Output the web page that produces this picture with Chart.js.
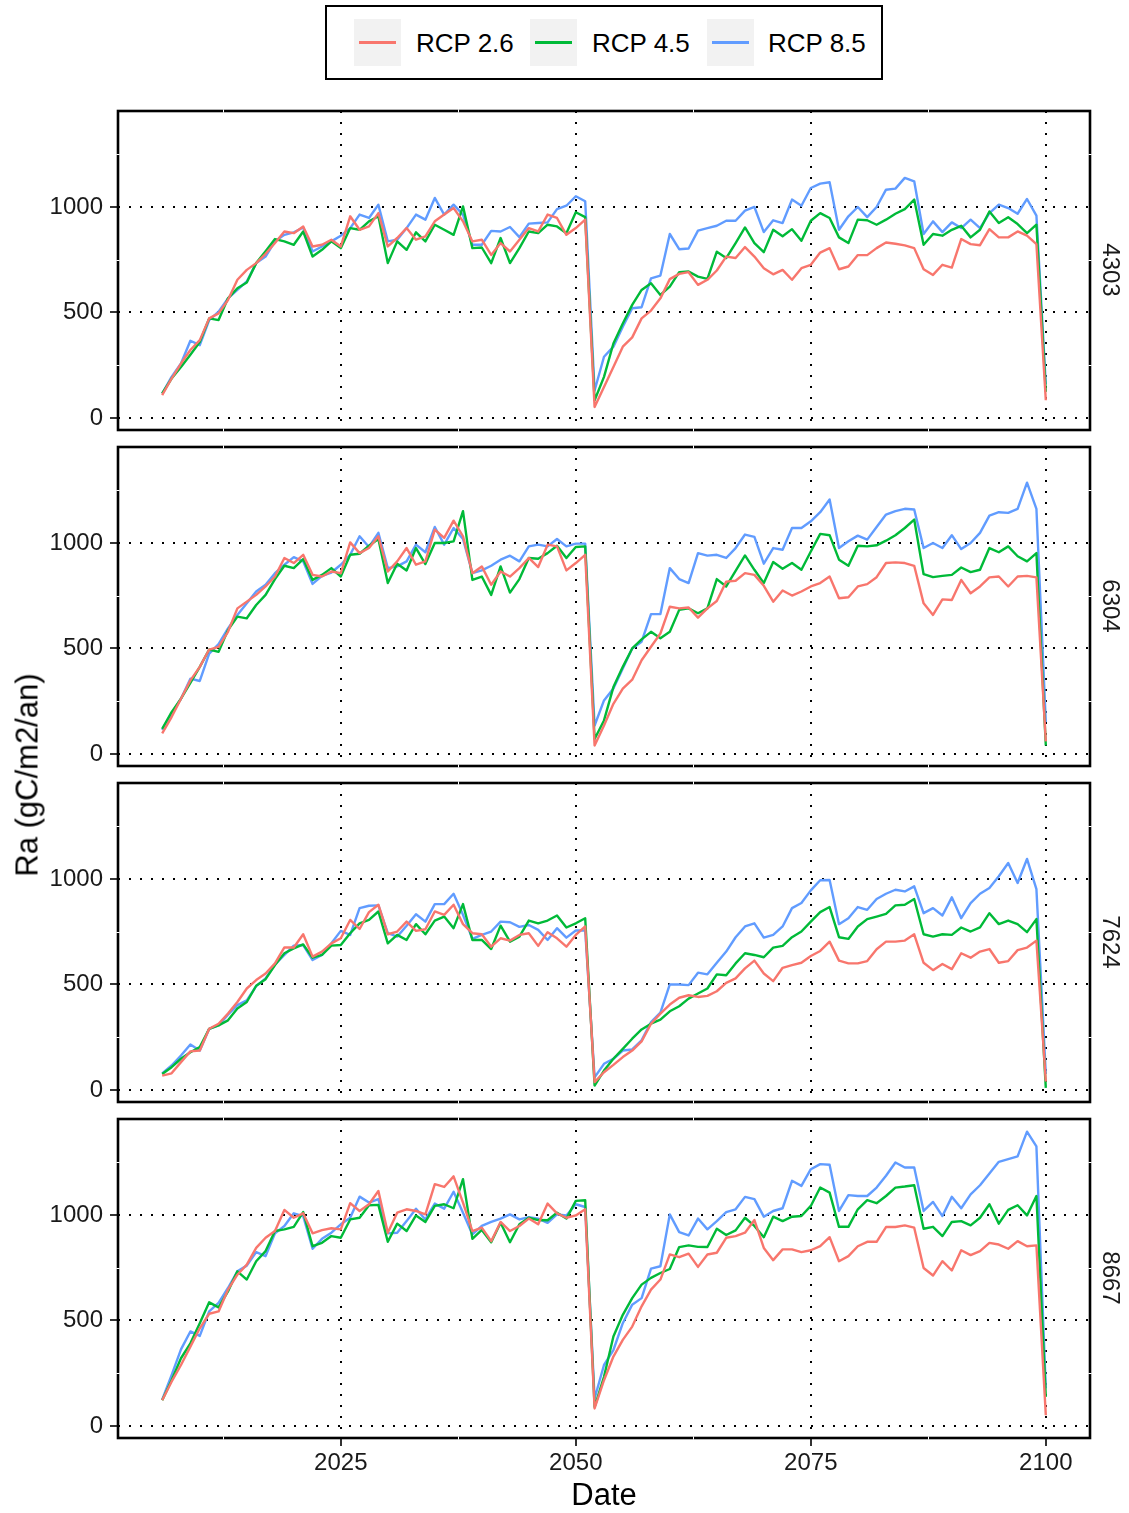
<!DOCTYPE html>
<html>
<head>
<meta charset="utf-8">
<title>Ra (gC/m2/an)</title>
<script src="https://cdn.jsdelivr.net/npm/chart.js@4.4.1/dist/chart.umd.min.js"></script>
<style>
  html, body { margin: 0; padding: 0; background: #ffffff; }
  body { width: 1129px; height: 1513px; position: relative; overflow: hidden;
         font-family: "Liberation Sans", Arial, Helvetica, sans-serif; color: #000; }
  canvas { position: absolute; left: 0; }
  .txt { position: absolute; white-space: nowrap; line-height: 1; z-index: 5; }
  .legend-box { position: absolute; left: 325px; top: 5px; width: 554px; height: 71px;
                border: 2px solid #000; background: #fff; z-index: 4; }
  .key { position: absolute; top: 19px; width: 47px; height: 47px; background: #F2F2F2; z-index: 5; }
  .key span { position: absolute; left: 5px; top: 22px; width: 37px; height: 3px; }
</style>
</head>
<body>

<div class="legend-box"></div>
<div class="key" style="left:354px"><span style="background:#F8766D"></span></div>
<div class="key" style="left:530px"><span style="background:#00BA38"></span></div>
<div class="key" style="left:707px"><span style="background:#619CFF"></span></div>
<div class="txt" style="left:416px; top:43px; font-size:26px; transform:translateY(-50%)">RCP 2.6</div>
<div class="txt" style="left:592px; top:43px; font-size:26px; transform:translateY(-50%)">RCP 4.5</div>
<div class="txt" style="left:768px; top:43px; font-size:26px; transform:translateY(-50%)">RCP 8.5</div>

<canvas id="p4303"></canvas>
<canvas id="p6304"></canvas>
<canvas id="p7624"></canvas>
<canvas id="p8667"></canvas>

<div class="txt" style="left:27px; top:775px; font-size:31px; transform:translate(-50%,-50%) rotate(-90deg)">Ra (gC/m2/an)</div>
<div class="txt" style="left:604px; top:1494px; font-size:31px; transform:translate(-50%,-50%)">Date</div>
<div class="txt" style="left:1111px; top:270px; font-size:24px; color:#1A1A1A; transform:translate(-50%,-50%) rotate(90deg)">4303</div>
<div class="txt" style="left:1111px; top:606px; font-size:24px; color:#1A1A1A; transform:translate(-50%,-50%) rotate(90deg)">6304</div>
<div class="txt" style="left:1111px; top:942px; font-size:24px; color:#1A1A1A; transform:translate(-50%,-50%) rotate(90deg)">7624</div>
<div class="txt" style="left:1111px; top:1278px; font-size:24px; color:#1A1A1A; transform:translate(-50%,-50%) rotate(90deg)">8667</div>

<script>
// ---- data: annual autotrophic respiration per site and scenario ----
const years = [2006, 2007, 2008, 2009, 2010, 2011, 2012, 2013, 2014, 2015,
  2016, 2017, 2018, 2019, 2020, 2021, 2022, 2023, 2024, 2025,
  2026, 2027, 2028, 2029, 2030, 2031, 2032, 2033, 2034, 2035,
  2036, 2037, 2038, 2039, 2040, 2041, 2042, 2043, 2044, 2045,
  2046, 2047, 2048, 2049, 2050, 2051, 2052, 2053, 2054, 2055,
  2056, 2057, 2058, 2059, 2060, 2061, 2062, 2063, 2064, 2065,
  2066, 2067, 2068, 2069, 2070, 2071, 2072, 2073, 2074, 2075,
  2076, 2077, 2078, 2079, 2080, 2081, 2082, 2083, 2084, 2085,
  2086, 2087, 2088, 2089, 2090, 2091, 2092, 2093, 2094, 2095,
  2096, 2097, 2098, 2099, 2100];

const scenarios = ["RCP 2.6", "RCP 4.5", "RCP 8.5"];
const sites = ["4303", "6304", "7624", "8667"];
const xBreaks = [2025, 2050, 2075, 2100];
const yBreaks = [0, 500, 1000];

const ra4303_rcp26 = [108, 187, 258, 322, 369, 472, 496, 559, 655, 702,
  734, 778, 829, 884, 876, 908, 813, 821, 845, 813,
  956, 892, 908, 971, 813, 853, 900, 845, 861, 932,
  964, 995, 932, 837, 845, 773, 829, 789, 845, 900,
  884, 964, 948, 868, 900, 940, 52,
  147, 242, 338, 382, 472, 509, 567, 658, 683, 691,
  631, 655, 699, 765, 758, 810, 765, 710, 681, 702,
  655, 710, 726, 784, 805, 705, 718, 772, 772, 805,
  832, 826, 818, 805, 705, 678, 726, 713, 848, 824,
  819, 895, 856, 856, 884, 864, 824, 84];
const ra4303_rcp45 = [116, 187, 242, 300, 360, 472, 464, 567, 615, 642,
  734, 790, 848, 837, 821, 884, 765, 797, 837, 805,
  900, 892, 932, 956, 734, 837, 797, 880, 837, 916,
  892, 868, 1003, 805, 808, 734, 853, 734, 805, 884,
  876, 916, 908, 876, 975, 952, 84,
  195, 353, 448, 536, 607, 639, 583, 623, 691, 694,
  670, 659, 788, 758, 829, 903, 829, 786, 892, 861,
  895, 840, 935, 971, 948, 856, 829, 940, 937, 916,
  940, 968, 990, 1035, 821, 872, 864, 892, 911, 856,
  892, 979, 924, 951, 919, 876, 916, 124];
const ra4303_rcp85 = [116, 195, 258, 366, 345, 464, 504, 567, 607, 647,
  734, 765, 837, 868, 880, 903, 789, 813, 837, 864,
  900, 964, 948, 1011, 837, 845, 900, 964, 940, 1043,
  964, 1011, 964, 821, 821, 887, 884, 905, 857, 921,
  924, 927, 990, 1006, 1051, 1027, 130,
  290, 338, 433, 520, 525, 662, 675, 872, 800, 803,
  888, 900, 911, 935, 935, 983, 1000, 881, 937, 924,
  1035, 1006, 1090, 1111, 1117, 892, 956, 1000, 952, 1000,
  1082, 1087, 1138, 1122, 872, 932, 881, 927, 900, 940,
  900, 971, 1011, 995, 968, 1038, 959, 160];

const ra6304_rcp26 = [98, 175, 262, 349, 413, 495, 508, 579, 690, 722,
  754, 794, 841, 929, 905, 944, 849, 841, 865, 857,
  1003, 952, 976, 1032, 865, 913, 976, 897, 913, 1063,
  1024, 1106, 1032, 857, 889, 802, 865, 841, 881, 929,
  886, 992, 984, 870, 905, 944, 40,
  135, 238, 310, 352, 444, 508, 571, 698, 690, 694,
  646, 690, 725, 817, 821, 857, 849, 797, 722, 775,
  751, 770, 794, 810, 841, 738, 743, 794, 805, 838,
  905, 908, 905, 892, 714, 659, 733, 730, 825, 762,
  794, 837, 841, 794, 841, 844, 837, 60];
const ra6304_rcp45 = [119, 198, 262, 337, 413, 495, 484, 587, 651, 643,
  706, 754, 829, 892, 881, 924, 825, 849, 881, 841,
  944, 949, 987, 1019, 810, 902, 870, 976, 900, 1000,
  1000, 1008, 1151, 825, 841, 754, 889, 765, 829, 929,
  925, 952, 987, 929, 981, 984, 71,
  159, 317, 413, 500, 543, 579, 548, 579, 683, 690,
  667, 690, 829, 794, 868, 941, 873, 810, 910, 878,
  905, 873, 960, 1043, 1037, 921, 892, 987, 984, 989,
  1011, 1037, 1071, 1111, 852, 838, 844, 849, 884, 862,
  873, 976, 956, 984, 937, 913, 952, 40];
const ra6304_rcp85 = [114, 190, 262, 357, 346, 476, 521, 595, 659, 714,
  770, 802, 857, 897, 933, 913, 806, 844, 860, 897,
  944, 1032, 981, 1048, 881, 889, 913, 992, 956, 1076,
  992, 1071, 1019, 857, 870, 892, 921, 940, 913, 984,
  992, 984, 1019, 984, 997, 997, 135,
  254, 310, 405, 500, 532, 663, 663, 881, 829, 810,
  952, 940, 944, 929, 976, 1040, 1029, 902, 976, 968,
  1071, 1071, 1103, 1146, 1206, 976, 1008, 1035, 1016, 1076,
  1135, 1151, 1162, 1159, 976, 1000, 976, 1037, 971, 1000,
  1048, 1130, 1146, 1143, 1162, 1286, 1162, 151];

const ra7624_rcp26 = [68, 79, 132, 183, 187, 290, 314, 362, 417, 481,
  521, 552, 600, 676, 675, 738, 632, 656, 695, 719,
  806, 763, 843, 878, 738, 751, 798, 754, 762, 846,
  830, 878, 786, 743, 738, 679, 719, 708, 735, 743,
  683, 748, 719, 679, 735, 775, 37,
  84, 119, 156, 187, 230, 314, 362, 405, 437, 449,
  441, 446, 468, 508, 529, 576, 613, 552, 516, 579,
  592, 603, 635, 659, 703, 613, 600, 600, 611, 667,
  703, 703, 708, 738, 603, 568, 597, 573, 648, 627,
  656, 668, 603, 611, 663, 675, 708, 40];
const ra7624_rcp45 = [76, 108, 148, 179, 203, 290, 306, 330, 386, 417,
  494, 525, 592, 648, 671, 690, 627, 640, 684, 687,
  743, 790, 806, 846, 695, 735, 711, 786, 738, 803,
  822, 767, 881, 711, 711, 668, 779, 703, 727, 803,
  790, 803, 827, 770, 790, 814, 21,
  92, 148, 195, 243, 287, 314, 333, 373, 397, 433,
  457, 481, 548, 544, 600, 648, 640, 629, 675, 683,
  724, 751, 798, 843, 867, 724, 716, 775, 810, 822,
  835, 875, 878, 905, 738, 727, 738, 735, 770, 751,
  771, 838, 786, 803, 786, 748, 810, 10];
const ra7624_rcp85 = [79, 116, 163, 216, 187, 290, 306, 357, 402, 425,
  492, 529, 595, 640, 684, 687, 616, 640, 695, 754,
  735, 862, 873, 875, 743, 727, 778, 833, 798, 881,
  881, 930, 830, 716, 735, 751, 798, 795, 773, 782,
  759, 711, 767, 722, 756, 756, 60,
  124, 148, 187, 192, 235, 322, 367, 500, 500, 497,
  556, 548, 603, 656, 724, 775, 790, 722, 735, 775,
  862, 886, 946, 994, 995, 786, 814, 867, 854, 905,
  930, 949, 941, 965, 838, 862, 827, 913, 814, 886,
  930, 957, 1013, 1076, 981, 1095, 952, 76];

const ra8667_rcp26 = [122, 210, 289, 376, 463, 532, 543, 646, 717, 765,
  844, 892, 924, 1024, 987, 1008, 913, 928, 937, 932,
  1056, 1019, 1051, 1114, 916, 1011, 1027, 1019, 1003, 1146,
  1133, 1183, 1059, 924, 940, 876, 967, 924, 948, 983,
  956, 1054, 1008, 987, 998, 1027, 83,
  217, 329, 408, 471, 567, 646, 694, 813, 800, 817,
  754, 813, 821, 892, 900, 916, 976, 844, 786, 837,
  837, 824, 833, 852, 895, 781, 805, 852, 873, 873,
  943, 943, 951, 940, 749, 713, 781, 737, 833, 810,
  829, 868, 860, 840, 876, 852, 856, 51];
const ra8667_rcp45 = [122, 217, 321, 392, 487, 586, 562, 638, 733, 694,
  781, 829, 924, 932, 944, 1014, 852, 868, 900, 892,
  979, 987, 1046, 1048, 873, 959, 924, 998, 967, 1043,
  1051, 1032, 1170, 887, 929, 871, 963, 871, 956, 987,
  976, 975, 1011, 983, 1067, 1070, 90,
  233, 424, 527, 606, 670, 702, 725, 744, 848, 856,
  849, 848, 935, 905, 927, 987, 948, 895, 992, 971,
  992, 995, 1043, 1130, 1106, 944, 944, 1027, 1070, 1056,
  1090, 1130, 1135, 1141, 935, 944, 900, 967, 971, 951,
  987, 1051, 959, 1024, 1046, 998, 1090, 138];
const ra8667_rcp85 = [125, 241, 363, 448, 427, 543, 583, 654, 733, 760,
  824, 805, 913, 948, 1008, 995, 840, 887, 916, 956,
  987, 1087, 1059, 1075, 913, 916, 971, 1030, 979, 1054,
  1030, 1110, 1011, 908, 948, 967, 983, 1003, 979, 990,
  983, 963, 1003, 998, 1051, 1038, 130,
  289, 360, 487, 575, 606, 746, 757, 1003, 919, 903,
  983, 932, 971, 1014, 1027, 1086, 1075, 992, 1019, 1032,
  1162, 1138, 1217, 1241, 1238, 1019, 1094, 1090, 1090, 1130,
  1186, 1249, 1225, 1225, 1019, 1062, 995, 1086, 1032, 1098,
  1141, 1197, 1252, 1265, 1278, 1395, 1325, 178];

// ---- styling ----
const FONT = '"Liberation Sans", Arial, Helvetica, sans-serif';
const colours = ["#F8766D", "#00BA38", "#619CFF"];
const xMinorBreaks = [2012.5, 2037.5, 2062.5, 2087.5];
const yMinorBreaks = [250, 750, 1250];
const dotted = [2, 9];

// black frame around each facet, with the white minor grid nicks crossing it
const panelFrame = {
  id: 'panelFrame',
  afterDatasetsDraw(chart) {
    const { ctx, chartArea: a, scales } = chart;
    ctx.save();
    ctx.strokeStyle = '#000';
    ctx.lineWidth = 2.6;
    ctx.strokeRect(a.left, a.top, a.right - a.left, a.bottom - a.top);
    ctx.strokeStyle = '#ffffff';
    ctx.lineWidth = 1;
    ctx.beginPath();
    xMinorBreaks.forEach(v => {
      const px = Math.round(scales.x.getPixelForValue(v)) + 0.5;
      ctx.moveTo(px, a.top - 1.6); ctx.lineTo(px, a.top + 1.6);
      ctx.moveTo(px, a.bottom - 1.6); ctx.lineTo(px, a.bottom + 1.6);
    });
    yMinorBreaks.forEach(v => {
      const py = Math.round(scales.y.getPixelForValue(v)) + 0.5;
      ctx.moveTo(a.left - 1.6, py); ctx.lineTo(a.left + 1.6, py);
      ctx.moveTo(a.right - 1.6, py); ctx.lineTo(a.right + 1.6, py);
    });
    ctx.stroke();
    ctx.restore();
  }
};

// keep the plot area fixed: no extra room reserved for overhanging tick labels
function noLabelPadding(s) {
  s.paddingTop = 0; s.paddingBottom = 0; s.paddingLeft = 0; s.paddingRight = 0;
}

function makePanel(canvasId, panelTop, series, showX) {
  const padTop = 5;
  const plotH = 319;
  const xH = showX ? 60 : 5;
  const canvas = document.getElementById(canvasId);
  canvas.width = 1129;
  canvas.height = padTop + plotH + xH;
  canvas.style.top = (panelTop - padTop) + 'px';
  canvas.style.width = '1129px';
  canvas.style.height = canvas.height + 'px';

  const datasets = series.map((vals, k) => ({
    label: scenarios[k],
    data: years.map((yr, i) => ({ x: yr, y: vals[i] })),
    borderColor: colours[k],
    borderWidth: 2.4,
    borderJoinStyle: 'round',
    pointRadius: 0,
    tension: 0,
    fill: false
  }));

  return new Chart(canvas, {
    type: 'line',
    data: { datasets },
    options: {
      responsive: false,
      animation: false,
      devicePixelRatio: 1,
      events: [],
      layout: { padding: { left: 0, right: 39, top: padTop, bottom: 0 } },
      plugins: { legend: { display: false }, tooltip: { enabled: false } },
      scales: {
        x: {
          type: 'linear',
          min: 2001.3,
          max: 2104.7,
          afterBuildTicks: s => { s.ticks = xBreaks.map(v => ({ value: v })); },
          afterFit: s => { s.height = xH; noLabelPadding(s); },
          grid: { color: '#000', lineWidth: 2, drawTicks: showX, tickLength: 8,
                  tickColor: '#333333', tickWidth: 2, tickBorderDash: [] },
          border: { display: false, dash: dotted },
          ticks: { display: showX, color: '#1A1A1A', padding: 3, maxRotation: 0,
                   font: { family: FONT, size: 24 }, callback: v => String(v) }
        },
        y: {
          type: 'linear',
          min: -57,
          max: 1455,
          afterBuildTicks: s => { s.ticks = yBreaks.map(v => ({ value: v })); },
          afterFit: s => { s.width = 118; noLabelPadding(s); },
          grid: { color: '#000', lineWidth: 2, drawTicks: true, tickLength: 8,
                  tickColor: '#333333', tickWidth: 2, tickBorderDash: [] },
          border: { display: false, dash: dotted },
          ticks: { color: '#1A1A1A', padding: 7,
                   font: { family: FONT, size: 24 }, callback: v => String(v) }
        }
      }
    },
    plugins: [panelFrame]
  });
}

makePanel('p4303', 111,  [ra4303_rcp26, ra4303_rcp45, ra4303_rcp85], false);
makePanel('p6304', 447,  [ra6304_rcp26, ra6304_rcp45, ra6304_rcp85], false);
makePanel('p7624', 783,  [ra7624_rcp26, ra7624_rcp45, ra7624_rcp85], false);
makePanel('p8667', 1119, [ra8667_rcp26, ra8667_rcp45, ra8667_rcp85], true);
</script>
</body>
</html>
